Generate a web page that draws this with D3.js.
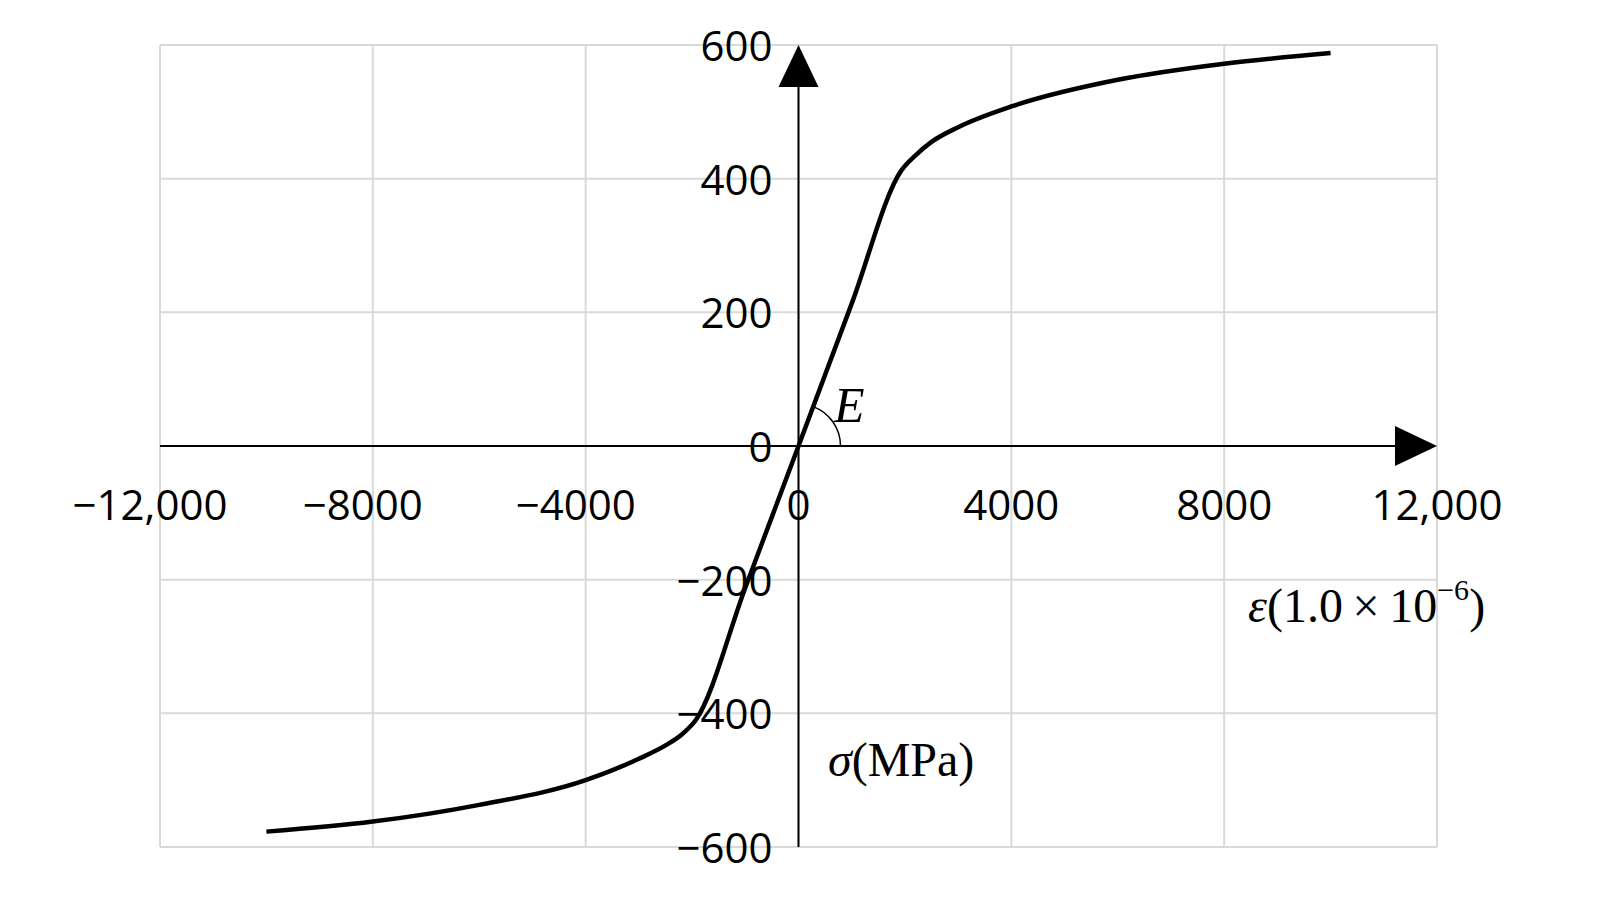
<!DOCTYPE html>
<html><head><meta charset="utf-8">
<script src="https://cdn.jsdelivr.net/npm/d3@7"></script>
<style>body{margin:0;background:#fff}</style>
</head><body>
<script>
// stress-strain curve
var strain = [-10000, -8000, -6000, -4000, -3000, -2500, -2200, -1930, -1000, 0, 1000, 1930, 2200, 2500, 3000, 4000, 6000, 8000, 10000];
var stress = [-577, -562, -537, -500, -468, -448, -432, -410, -212, 0, 213, 412, 435, 455, 477, 508, 548, 572, 588];
var xTicks = [-12000, -8000, -4000, 0, 4000, 8000, 12000];
var yTicks = [-600, -400, -200, 0, 200, 400, 600];

var W = 1611, H = 918;
var svg = d3.select("body").append("svg").attr("width", W).attr("height", H);

var x = d3.scaleLinear().domain([-12000, 12000]).range([160, 1437]);
var y = d3.scaleLinear().domain([-600, 600]).range([847, 45]);
var font = "Open Sans, Liberation Sans, sans-serif";

// grid
svg.selectAll(".gx").data(xTicks).enter().append("line")
  .attr("x1", d => x(d)).attr("x2", d => x(d)).attr("y1", y(600)).attr("y2", y(-600))
  .style("stroke", "#d9d9d9").style("stroke-width", 2);
svg.selectAll(".gy").data(yTicks).enter().append("line")
  .attr("y1", d => y(d)).attr("y2", d => y(d)).attr("x1", x(-12000)).attr("x2", x(12000))
  .style("stroke", "#d9d9d9").style("stroke-width", 2);

// axes
svg.append("line").attr("x1", x(-12000)).attr("x2", x(12000) - 30).attr("y1", y(0)).attr("y2", y(0))
  .style("stroke", "#000").style("stroke-width", 2);
svg.append("line").attr("x1", x(0)).attr("x2", x(0)).attr("y1", y(-600)).attr("y2", y(600) + 30)
  .style("stroke", "#000").style("stroke-width", 2);
svg.append("path")
  .attr("d", `M${x(12000)},${y(0)} L${x(12000)-42},${y(0)-20} L${x(12000)-42},${y(0)+20} Z`);
svg.append("path")
  .attr("d", `M${x(0)},${y(600)} L${x(0)-20},${y(600)+42} L${x(0)+20},${y(600)+42} Z`);

// tick labels
var fmt = d => (Math.abs(d) >= 10000 ? d3.format(",")(Math.abs(d)) : Math.abs(d)).toString();
svg.selectAll(".tx").data(xTicks).enter().append("text")
  .attr("x", d => x(d) - (d < 0 ? 10 : 0)).attr("y", y(0) + 74)
  .attr("text-anchor", "middle").style("font-family", font).style("font-size", "42px")
  .text(d => (d < 0 ? "\u2212" : "") + fmt(d));
svg.selectAll(".ty").data(yTicks).enter().append("text")
  .attr("x", x(0) - 26).attr("y", d => y(d) + 16)
  .attr("text-anchor", "end").style("font-family", font).style("font-size", "42px")
  .text(d => (d < 0 ? "\u2212" : "") + Math.abs(d));

// curve
var pts = strain.map((s, i) => [s, stress[i]]);
svg.append("path").datum(pts)
  .attr("d", d3.line().x(d => x(d[0])).y(d => y(d[1])).curve(d3.curveMonotoneX))
  .style("fill", "none").style("stroke", "#000").style("stroke-width", 4.5);

// angle arc for E
var r = 42, ox = x(0), oy = y(0);
var ang = Math.atan2(y(0) - y(412), x(1930) - x(0));
svg.append("path")
  .attr("d", `M${ox + r},${oy} A${r},${r} 0 0 0 ${ox + r*Math.cos(ang)},${oy - r*Math.sin(ang)}`)
  .style("fill", "none").style("stroke", "#000").style("stroke-width", 1.5);
svg.append("text").attr("x", 834).attr("y", 422)
  .style("font-family", "Liberation Serif, serif").style("font-style", "italic").style("font-size", "50px").text("E");

// axis titles
var t1 = svg.append("text").attr("x", 828).attr("y", 776)
  .style("font-family", "Liberation Serif, serif").style("font-size", "48px");
t1.append("tspan").style("font-style", "italic").text("\u03c3");
t1.append("tspan").text("(MPa)");
var t2 = svg.append("text").attr("x", 1248).attr("y", 622)
  .style("font-family", "Liberation Serif, serif").style("font-size", "48px");
t2.append("tspan").style("font-style", "italic").text("\u03b5");
t2.append("tspan").text("(1.0\u2009\u00d7\u200910");
t2.append("tspan").attr("dy", -22).style("font-size", "30px").text("\u22126");
t2.append("tspan").attr("dy", 22).text(")");
</script>
</body></html>
